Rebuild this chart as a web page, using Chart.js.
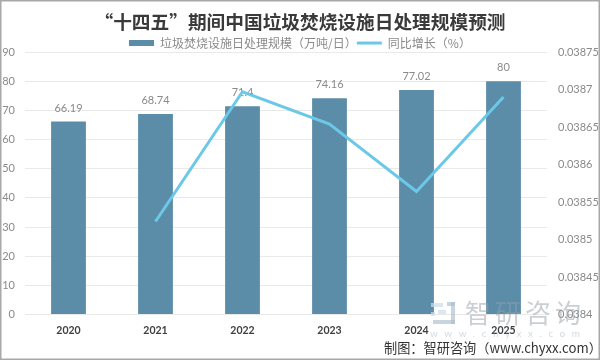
<!DOCTYPE html>
<html lang="zh">
<head>
<meta charset="utf-8">
<style>
  html, body { margin: 0; padding: 0; background: #fff; }
  canvas { display: block; }
</style>
<script src="https://cdn.jsdelivr.net/npm/chart.js@4"></script>
</head>
<body>
<canvas id="chart" width="600" height="360"></canvas>
<script>
var years = ['2020', '2021', '2022', '2023', '2024', '2025'];
var capacity = [66.19, 68.74, 71.4, 74.16, 77.02, 80];
var growth = [null, 0.038524, 0.038697, 0.038654, 0.038564, 0.03869];

var capacityName = '垃圾焚烧设施日处理规模（万吨/日）';
var growthName = '同比增长（%）';
var titleText = '“十四五”期间中国垃圾焚烧设施日处理规模预测';
var sourceText = '制图：智研咨询（www.chyxx.com）';
var markText = '智研咨询';
var markUrl = 'www.chyxx.com';

var cjk = '"Noto Sans CJK SC", sans-serif';
var latin = 'Lato, "Noto Sans CJK SC", sans-serif';
var barColor = '#5b8da8';
var lineColor = '#6cc8e8';
var greyText = '#8a8a8a';

// legend swatch for the bars, wide and flat
var swatch = document.createElement('canvas');
swatch.width = 25;
swatch.height = 6;
var sw = swatch.getContext('2d');
sw.fillStyle = barColor;
sw.fillRect(0, 0, 25, 6);

// legend takes too much height by default, plot has to start at y=52
var legendHeight = {
  id: 'legendHeight',
  beforeLayout: function (chart) {
    var legend = chart.legend;
    if (legend.fixedFit) return;
    var fit = legend.fit;
    legend.fit = function () {
      fit.call(legend);
      legend.height = 15;
    };
    legend.fixedFit = true;
  }
};

// bar labels go under the line, 71.4 is crossed by it in the original
var barLabels = {
  id: 'barLabels',
  beforeDatasetsDraw: function (chart) {
    var ctx = chart.ctx;
    ctx.save();
    ctx.font = '11px ' + latin;
    ctx.fillStyle = greyText;
    ctx.textAlign = 'center';
    ctx.textBaseline = 'middle';
    chart.getDatasetMeta(1).data.forEach(function (bar, i) {
      ctx.fillText(String(capacity[i]), bar.x, bar.y - 13.5);
    });
    ctx.restore();
  }
};

// watermark, source line and frame
var extras = {
  id: 'extras',
  afterDraw: function (chart) {
    var ctx = chart.ctx;
    ctx.save();

    ctx.fillStyle = 'rgba(205, 222, 235, 0.7)';
    ctx.fillRect(431, 303, 12, 4);
    ctx.fillRect(431, 312, 4, 4);
    ctx.fillRect(438, 310, 8, 4);
    ctx.fillStyle = 'rgba(170, 190, 205, 0.65)';
    ctx.fillRect(447, 302, 8, 4);
    ctx.fillRect(451, 302, 4, 22);
    ctx.fillRect(433, 320, 22, 4);

    ctx.textBaseline = 'middle';
    ctx.textAlign = 'left';
    ctx.fillStyle = 'rgba(150, 160, 170, 0.5)';
    ctx.font = '26px ' + cjk;
    ctx.letterSpacing = '4px';
    ctx.fillText(markText, 465, 313);
    ctx.fillStyle = 'rgba(150, 160, 170, 0.4)';
    ctx.font = '10px ' + latin;
    ctx.letterSpacing = '6.5px';
    ctx.fillText(markUrl, 430, 334);
    ctx.letterSpacing = '0px';

    ctx.fillStyle = '#333333';
    ctx.font = '13.2px ' + cjk;
    ctx.fillText(sourceText, 384, 348);

    ctx.strokeStyle = '#a8a8a8';
    ctx.lineWidth = 1.5;
    ctx.strokeRect(0.75, 0.75, 598.5, 358.5);
    ctx.restore();
  }
};

new Chart(document.getElementById('chart').getContext('2d'), {
  type: 'bar',
  plugins: [legendHeight, barLabels, extras],
  data: {
    labels: years,
    datasets: [{
      type: 'line',
      label: growthName,
      data: growth,
      yAxisID: 'y2',
      borderColor: lineColor,
      backgroundColor: lineColor,
      borderWidth: 3,
      pointRadius: 0,
      tension: 0,
      order: 0
    }, {
      type: 'bar',
      label: capacityName,
      data: capacity,
      yAxisID: 'y',
      backgroundColor: barColor,
      barPercentage: 1,
      categoryPercentage: 0.4,
      order: 1
    }]
  },
  options: {
    responsive: false,
    animation: false,
    layout: { padding: 0 },
    plugins: {
      title: {
        display: true,
        text: titleText,
        color: '#3a3a3a',
        font: { family: cjk, size: 18.7, weight: 'bold' },
        padding: { top: 11, bottom: 3.6 }
      },
      legend: {
        position: 'top',
        labels: {
          color: greyText,
          font: { family: cjk, size: 12 },
          padding: 0,
          usePointStyle: true,
          pointStyleWidth: 25,
          boxHeight: 12,
          generateLabels: function () {
            return [
              { text: capacityName, pointStyle: swatch, fontColor: greyText, datasetIndex: 1 },
              { text: growthName, pointStyle: 'line', strokeStyle: lineColor, lineWidth: 3, fontColor: greyText, datasetIndex: 0 }
            ];
          }
        }
      },
      tooltip: { enabled: false }
    },
    scales: {
      x: {
        afterFit: function (scale) { scale.height = 45.5; },
        grid: { display: false },
        border: { display: false },
        ticks: {
          color: '#404040',
          padding: 2,
          maxRotation: 0,
          font: { family: latin, size: 10.5, weight: 'bold' }
        }
      },
      y: {
        position: 'left',
        min: 0,
        max: 90,
        afterFit: function (scale) { scale.width = 25; },
        grid: { color: '#e9e9e9', lineWidth: 1, drawTicks: false },
        border: { display: false },
        ticks: {
          stepSize: 10,
          color: greyText,
          padding: 10,
          font: { family: latin, size: 11 }
        }
      },
      y2: {
        position: 'right',
        min: 0.0384,
        max: 0.03875,
        afterFit: function (scale) { scale.width = 53; },
        grid: { display: false, drawTicks: false },
        border: { display: false },
        ticks: {
          stepSize: 0.00005,
          color: greyText,
          padding: 11,
          font: { family: latin, size: 11 },
          callback: function (value) { return String(parseFloat(value.toFixed(5))); }
        }
      }
    }
  }
});
</script>
</body>
</html>
